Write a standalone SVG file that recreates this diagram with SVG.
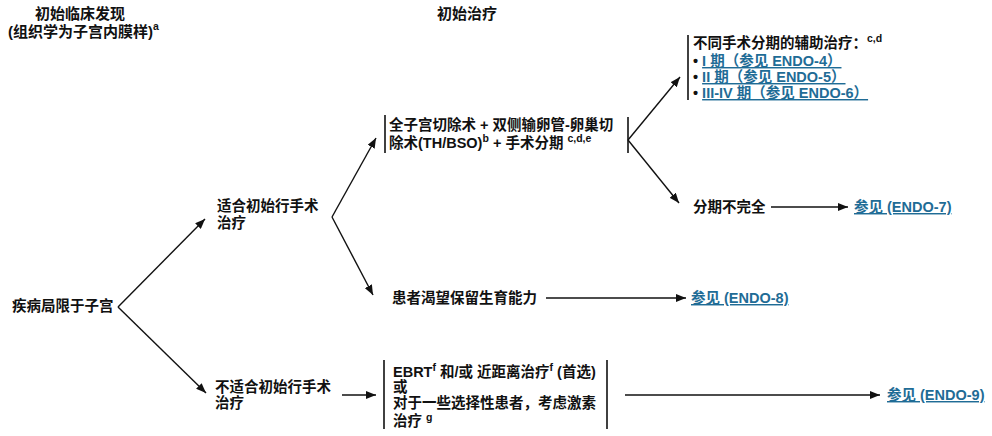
<svg xmlns="http://www.w3.org/2000/svg" width="992" height="436" viewBox="0 0 992 436">
<defs>
<marker id="ah" viewBox="0 0 10 8" refX="10" refY="4" markerWidth="10" markerHeight="8" markerUnits="userSpaceOnUse" orient="auto">
<path d="M0,0 L10,4 L0,8 z" fill="#111"/>
</marker>
<style>
text{font-family:"Liberation Sans","Noto Sans CJK SC",sans-serif;font-weight:bold;font-size:14.5px;fill:#111}
.hd{font-size:15px}
.sup{font-size:10.5px}
.lk{fill:#1f6c96;text-decoration:underline}
.cn{stroke:#111;stroke-width:1.4;fill:none}
.bar{stroke:#111;stroke-width:1.6}
</style>
</defs>
<rect width="992" height="436" fill="#fff"/>
<g id="headers">
<text class="hd" x="35" y="19">初始临床发现</text>
<text class="hd" x="8" y="37">(组织学为子宫内膜样)<tspan class="sup" dy="-7">a</tspan></text>
<text class="hd" x="437" y="19">初始治疗</text>
</g>
<g id="connectors">
<path class="cn" d="M118,307 L205,219" marker-end="url(#ah)"/>
<path class="cn" d="M118,307 L206,393" marker-end="url(#ah)"/>
<path class="cn" d="M332,217 L376,138" marker-end="url(#ah)"/>
<path class="cn" d="M332,217 L373,295" marker-end="url(#ah)"/>
<path class="cn" d="M628,140 L680,77" marker-end="url(#ah)"/>
<path class="cn" d="M628,140 L679,203" marker-end="url(#ah)"/>
<path class="cn" d="M771,207 L848,207" marker-end="url(#ah)"/>
<path class="cn" d="M546,298 L686,298" marker-end="url(#ah)"/>
<path class="cn" d="M342,395 L376,395" marker-end="url(#ah)"/>
<path class="cn" d="M625,395 L880,395" marker-end="url(#ah)"/>
</g>
<g id="n-disease">
<text x="12" y="311">疾病局限于子宫</text>
</g>
<g id="n-suitable">
<text x="217" y="211">适合初始行手术</text>
<text x="217" y="228">治疗</text>
</g>
<g id="n-unsuitable">
<text x="215" y="392">不适合初始行手术</text>
<text x="215" y="408">治疗</text>
</g>
<g id="n-surgery">
<line class="bar" x1="385" y1="115" x2="385" y2="153"/>
<line class="bar" x1="628" y1="117" x2="628" y2="153"/>
<text x="389" y="130">全子宫切除术 + 双侧输卵管-卵巢切</text>
<text x="389" y="148">除术(TH/BSO)<tspan class="sup" dy="-6">b</tspan><tspan dy="6"> + 手术分期 </tspan><tspan class="sup" dy="-6">c,d,e</tspan></text>
</g>
<g id="n-adjuvant">
<line class="bar" x1="688" y1="35" x2="688" y2="100"/>
<text x="693" y="48">不同手术分期的辅助治疗：<tspan class="sup" dy="-6">c,d</tspan></text>
<text x="693" y="66">• <tspan class="lk">I 期（参见 ENDO-4）</tspan></text>
<text x="693" y="82">• <tspan class="lk">II 期（参见 ENDO-5）</tspan></text>
<text x="693" y="98">• <tspan class="lk">III-IV 期（参见 ENDO-6）</tspan></text>
</g>
<g id="n-incomplete">
<text x="693" y="212">分期不完全</text>
</g>
<g id="n-endo7">
<text class="lk" x="854" y="212">参见 (ENDO-7)</text>
</g>
<g id="n-fertility">
<text x="392" y="303">患者渴望保留生育能力</text>
</g>
<g id="n-endo8">
<text class="lk" x="691" y="303">参见 (ENDO-8)</text>
</g>
<g id="n-radiation">
<line class="bar" x1="384" y1="360" x2="384" y2="429"/>
<line class="bar" x1="607" y1="360" x2="607" y2="429"/>
<text x="393" y="377">EBRT<tspan class="sup" dy="-6">f</tspan><tspan dy="6"> 和/或 近距离治疗</tspan><tspan class="sup" dy="-6">f</tspan><tspan dy="6"> (首选)</tspan></text>
<text x="393" y="392">或</text>
<text x="393" y="408">对于一些选择性患者，考虑激素</text>
<text x="393" y="426">治疗 <tspan class="sup" dy="-5">g</tspan></text>
</g>
<g id="n-endo9">
<text class="lk" x="887" y="400">参见 (ENDO-9)</text>
</g>
</svg>
